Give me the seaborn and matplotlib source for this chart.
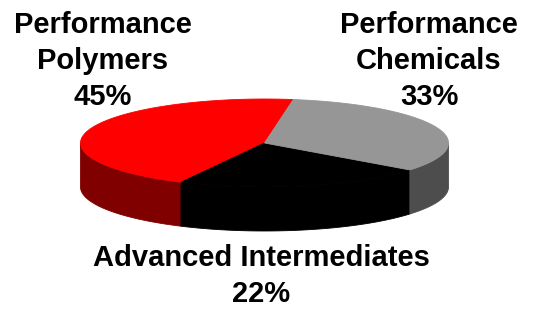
import numpy as np
import matplotlib
matplotlib.use("Agg")
from matplotlib import pyplot as plt
import seaborn as sns

# data
segments = ["Performance\nPolymers", "Advanced Intermediates", "Performance\nChemicals"]
shares = [45, 22, 33]
top_colors = ["#ff0000", "#000000", "#969696"]
side_colors = ["#800000", "#000000", "#4d4d4d"]

sns.set_theme(style="white")
plt.rcParams['font.family'] = ['Liberation Sans', 'DejaVu Sans']

fig = plt.figure(figsize=(5.36, 3.09), dpi=100)
ax = fig.add_axes([0, 0, 1, 1])
ax.set_xlim(0, 536)
ax.set_ylim(309, 0)
ax.axis("off")

# ellipse geometry (pixel space)
cx, cy = 264.5, 143
a, b = 184, 44
depth = 44
start = 81.0


def pt(t, dy=0):
    t = np.radians(t)
    return cx + a * np.cos(t), cy - b * np.sin(t) + dy


# slice angles, counter clockwise from start
fracs = np.array(shares) / np.sum(shares)
edges = start + np.concatenate([[0], np.cumsum(fracs) * 360])

# side walls (front half only: 180..360 deg)
for i in range(len(shares)):
    t0, t1 = edges[i], edges[i + 1]
    for off in (0, 360, -360):
        lo = max(t0 + off, 180)
        hi = min(t1 + off, 360)
        if hi <= lo:
            continue
        ts = np.linspace(lo, hi, 80)
        xs, ys = pt(ts)
        xb, yb = pt(ts[::-1], depth)
        ax.fill(np.concatenate([xs, xb]), np.concatenate([ys, yb]),
                color=side_colors[i], lw=0.6, ec=side_colors[i])

# tops
for i in range(len(shares)):
    ts = np.linspace(edges[i], edges[i + 1], 150)
    xs, ys = pt(ts)
    ax.fill(np.concatenate([[cx], xs]), np.concatenate([[cy], ys]),
            color=top_colors[i], lw=0.6, ec=top_colors[i])

font = dict(fontsize=21, fontweight="bold", color="black",
            ha="center", va="center", linespacing=1.35)
ax.text(103, 61, f"{segments[0]}\n{shares[0]}%", **font)
ax.text(429, 61, f"{segments[2]}\n{shares[2]}%", **font)
ax.text(261, 276, f"{segments[1]}\n{shares[1]}%", **font)

fig.savefig("out.png", dpi=100, facecolor="white")
